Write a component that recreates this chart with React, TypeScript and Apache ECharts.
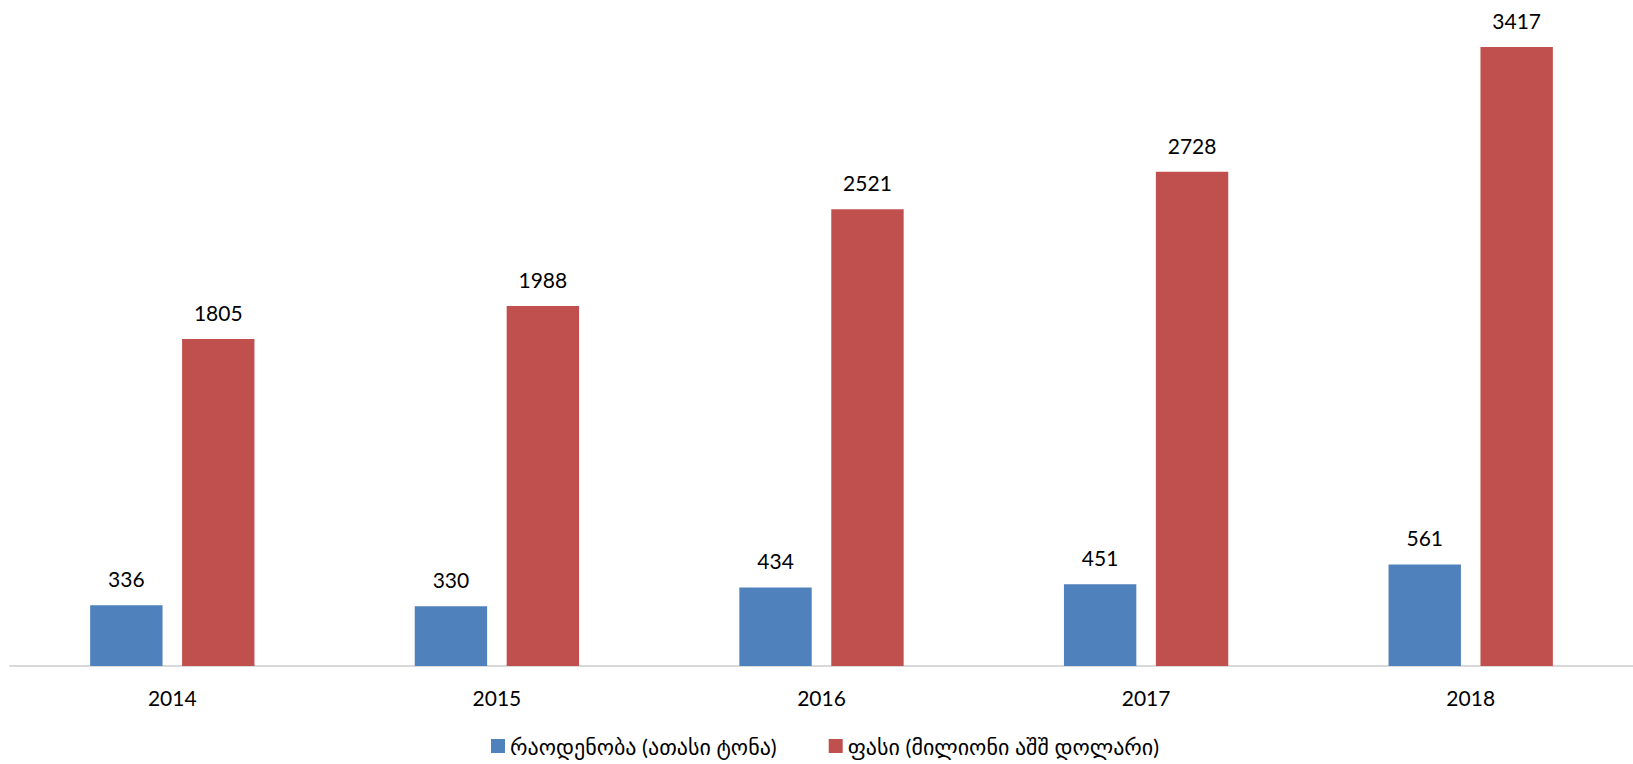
import React, { useEffect, useRef } from "react";
import * as echarts from "echarts";

const years = ["2014", "2015", "2016", "2017", "2018"];
const quantity = [336, 330, 434, 451, 561];
const price = [1805, 1988, 2521, 2728, 3417];
const seriesNames = ["რაოდენობა (ათასი ტონა)", "ფასი (მილიონი აშშ დოლარი)"];

const FONT = "Lato, 'DejaVu Sans', sans-serif";

export default function App() {
  const ref = useRef<HTMLDivElement>(null);
  useEffect(() => {
    if (!ref.current) return;
    const chart = echarts.init(ref.current, null, { renderer: "svg" });
    const label = {
      show: true,
      position: "top" as const,
      distance: 16,
      color: "#000",
      fontSize: 21,
      fontFamily: FONT,
    };
    chart.setOption({
      animation: false,
      backgroundColor: "#fff",
      textStyle: { fontFamily: FONT },
      grid: { left: 10, width: 1635, top: 32, bottom: 98, containLabel: false },
      legend: {
        bottom: 2,
        left: 486,
        itemWidth: 14,
        itemHeight: 14,
        itemGap: 52,
        icon: "rect",
        textStyle: { fontSize: 22, color: "#000", fontFamily: FONT },
        data: seriesNames,
      },
      xAxis: {
        type: "category",
        data: years,
        axisLine: { lineStyle: { color: "#D9D9D9", width: 2 } },
        axisTick: { show: false },
        axisLabel: { color: "#000", fontSize: 21, margin: 21, fontFamily: FONT },
      },
      yAxis: {
        type: "value",
        min: 0,
        max: 3500,
        show: false,
        splitLine: { show: false },
      },
      series: [
        {
          name: seriesNames[0],
          type: "bar",
          data: quantity,
          barWidth: "22.3%",
          barGap: "27%",
          itemStyle: { color: "#4F81BD" },
          label,
        },
        {
          name: seriesNames[1],
          type: "bar",
          data: price,
          barWidth: "22.3%",
          itemStyle: { color: "#C0504D" },
          label,
        },
      ],
    });
    return () => chart.dispose();
  }, []);
  return (
    <div
      ref={ref}
      style={{ position: "absolute", left: 0, top: 0, width: 1633, height: 764 }}
    />
  );
}
